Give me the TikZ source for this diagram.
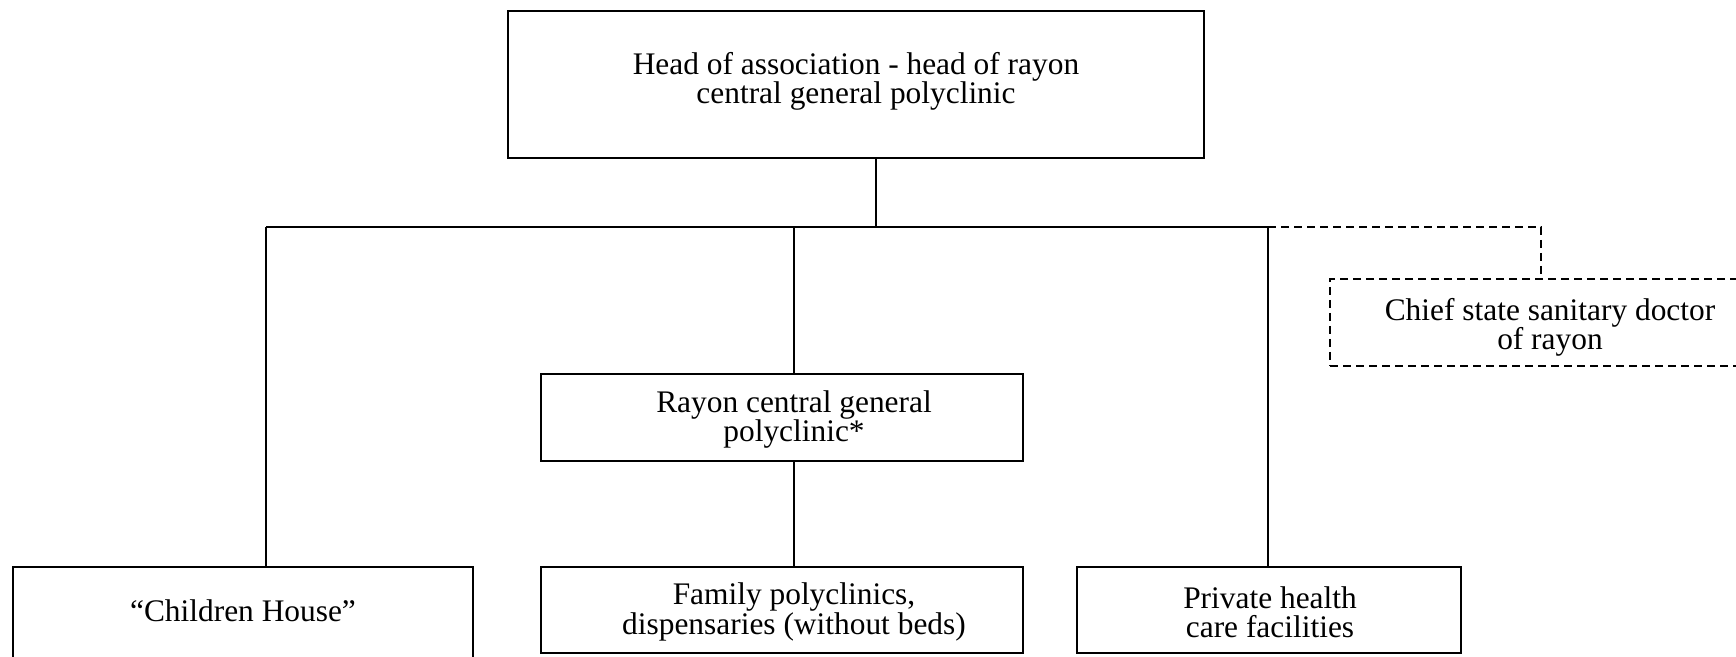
\documentclass[tikz,border=0pt]{standalone}
\usepackage{fontspec}
\setmainfont{Liberation Serif}
\usetikzlibrary{calc}
\begin{document}
\begin{tikzpicture}[x=0.5pt,y=-0.5pt,
  box/.style={draw,line width=0.9pt,inner sep=0pt},
  dbox/.style={box,dash pattern=on 4pt off 2.5pt},
  txt/.style={font=\fontsize{15.7}{14.6}\selectfont,align=center,inner sep=0pt},
  conn/.style={line width=0.9pt},
  dconn/.style={line width=0.9pt,dash pattern=on 4pt off 2.5pt}]
\useasboundingbox (0,0) rectangle (1736,657);
\fill[white] (0,0) rectangle (1736,657);
\clip (0,0) rectangle (1736,657);
% boxes
\node[box,minimum width=348pt,minimum height=73.5pt] (head) at (856,84.5) {};
\node[box,minimum width=241pt,minimum height=43.5pt] (rayon) at (782,417.5) {};
\node[box,minimum width=241pt,minimum height=43pt] (family) at (782,610) {};
\node[box,minimum width=192pt,minimum height=43pt] (private) at (1269,610) {};
\node[box,minimum width=230pt,minimum height=66.5pt] (children) at (243,633.5) {};
\node[dbox,minimum width=220pt,minimum height=43.5pt] (chief) at (1550,322.5) {};
% texts
\node[txt] (headT) at (856,81.5) {Head of association - head of rayon\\central general polyclinic};
\node[txt] (rayonT) at (794,419.5) {Rayon central general\\polyclinic*};
\node[txt] (familyT) at (794,612) {Family polyclinics,\\dispensaries (without beds)};
\node[txt] (privateT) at (1270,612) {Private health\\care facilities};
\node[txt] (childrenT) at (243,611) {“Children House”};
\node[txt] (chiefT) at (1550,327.5) {Chief state sanitary doctor\\of rayon};
% connectors
\coordinate (bus) at (876,227);
\coordinate (busL) at (266,227);
\coordinate (busM) at (794,227);
\coordinate (busR) at (1268,227);
\coordinate (dcorner) at (1541,227);
\draw[conn] (busL) -- (busR);
\draw[conn] (head.south -| bus) -- (bus);
\draw[conn] (busL) -- (children.north -| busL);
\draw[conn] (busM) -- (rayon.north -| busM);
\draw[conn] (rayon.south -| busM) -- (family.north -| busM);
\draw[conn] (busR) -- (private.north -| busR);
\draw[dconn] (busR) -- (dcorner) -- (chief.north -| dcorner);
\end{tikzpicture}
\end{document}
